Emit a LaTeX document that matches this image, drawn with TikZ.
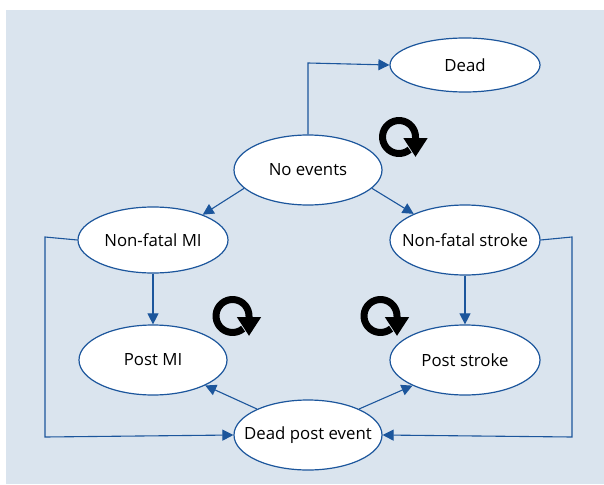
\documentclass[tikz,border=0pt]{standalone}
\usepackage{fontspec}
\setmainfont{Open Sans}
\usetikzlibrary{shapes.geometric,arrows.meta}
\definecolor{bgc}{RGB}{218,228,238}
\definecolor{lnc}{RGB}{28,86,156}
\tikzset{
  state/.style={ellipse, draw=lnc, line width=1.2pt, fill=white, inner ysep=0pt, inner xsep=-25pt,
    minimum width=150pt, minimum height=68pt, font=\fontsize{16.8}{20}\selectfont},
  conn/.style={draw=lnc, line width=1.1pt, -{Triangle[length=11pt,width=11pt]}},
  loopar/.style={line width=7pt, -{Triangle[length=19pt,width=23pt]}}
}
\begin{document}
\begin{tikzpicture}[x=1pt,y=-1pt]
\useasboundingbox (0,0) rectangle (604,484);
\fill[bgc] (6,10) rectangle (604,484);
\node[state, minimum height=54pt] (dead) at (465,65) {Dead};
\node[state, minimum width=148pt, minimum height=70pt] (noev) at (308,170) {No events};
\node[state, minimum height=66pt] (nfmi) at (153,240) {Non-fatal MI};
\node[state, minimum height=70pt] (nfst) at (465,240) {Non-fatal stroke};
\node[state, minimum width=148pt, minimum height=70pt] (pmi) at (153,360) {Post MI};
\node[state, minimum height=70pt] (pst) at (465,360) {Post stroke};
\node[state, minimum width=148pt, minimum height=70pt] (dpe) at (308,435) {Dead post event};
\coordinate (c1) at (308,63);
\coordinate (c2) at (45,237);
\coordinate (c3) at (45,437);
\coordinate (c4) at (572,237);
\coordinate (c5) at (572,437);
\draw[conn] (noev.north) -- (c1) -- (dead.west);
\draw[conn] (noev.-164) -- (nfmi.27);
\draw[conn] (noev.-16) -- (nfst.153);
\draw[conn] (nfmi.west) -- (c2) -- (c3) -- (dpe.west);
\draw[conn] (nfst.east) -- (c4) -- (c5) -- (dpe.east);
\draw[conn] (nfmi.south) -- (pmi.north);
\draw[conn] (nfst.south) -- (pst.north);
\draw[conn] (dpe.153) -- (pmi.-26);
\draw[conn] (dpe.27) -- (pst.-154);
\foreach \cx/\cy [count=\i] in {399/137, 232.5/316, 380.5/316}{
  \coordinate (lc\i) at (\cx,\cy);
  \draw[loopar] (lc\i) ++(50:16.5) arc[start angle=50, end angle=360, radius=16.5] -- ++(0,20);
}
\end{tikzpicture}
\end{document}
